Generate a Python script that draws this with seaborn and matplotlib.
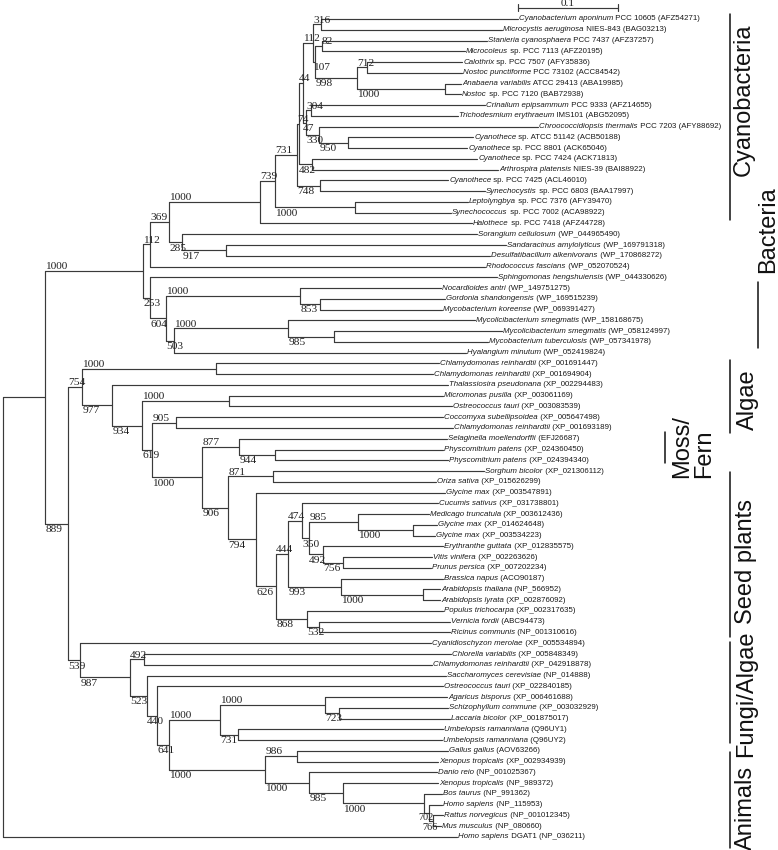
import matplotlib
matplotlib.use("Agg")
import matplotlib.pyplot as plt
import seaborn as sns
import pandas as pd

sns.set_theme(style="white")
plt.rcParams["font.family"] = ["Liberation Sans", "DejaVu Sans"]

# ---------------- data ----------------
leaf_italic = [
    "Cyanobacterium aponinum", "Microcystis aeruginosa", "Stanieria cyanosphaera",
    "Microcoleus", "Calothrix", "Nostoc punctiforme", "Anabaena variabilis", "Nostoc",
    "Crinalium epipsammum", "Trichodesmium erythraeum", "Chroococcidiopsis thermalis",
    "Cyanothece", "Cyanothece", "Cyanothece", "Arthrospira platensis", "Cyanothece",
    "Synechocystis", "Leptolyngbya", "Synechococcus", "Halothece",
    "Sorangium cellulosum", "Sandaracinus amylolyticus", "Desulfatibacillum alkenivorans",
    "Rhodococcus fascians", "Sphingomonas hengshuiensis", "Nocardioides antri",
    "Gordonia shandongensis", "Mycobacterium koreense", "Mycolicibacterium smegmatis",
    "Mycolicibacterium smegmatis", "Mycobacterium tuberculosis", "Hyalangium minutum",
    "Chlamydomonas reinhardtii", "Chlamydomonas reinhardtii", "Thalassiosira pseudonana",
    "Micromonas pusilla", "Ostreococcus tauri", "Coccomyxa subellipsoidea",
    "Chlamydomonas reinhardtii", "Selaginella moellendorffii", "Physcomitrium patens",
    "Physcomitrium patens", "Sorghum bicolor", "Oriza sativa", "Glycine max",
    "Cucumis sativus", "Medicago truncatula", "Glycine max", "Glycine max",
    "Erythranthe guttata", "Vitis vinifera", "Prunus persica", "Brassica napus",
    "Arabidopsis thaliana", "Arabidopsis lyrata", "Populus trichocarpa", "Vernicia fordii",
    "Ricinus communis", "Cyanidioschyzon merolae", "Chlorella variabilis",
    "Chlamydomonas reinhardtii", "Saccharomyces cerevisiae", "Ostreococcus tauri",
    "Agaricus bisporus", "Schizophyllum commune", "Laccaria bicolor",
    "Umbelopsis ramanniana", "Umbelopsis ramanniana", "Gallus gallus",
    "Xenopus tropicalis", "Danio reio", "Xenopus tropicalis", "Bos taurus",
    "Homo sapiens", "Rattus norvegicus", "Mus musculus", "Homo sapiens",
]
leaf_plain = [
    " PCC 10605 (AFZ54271)", " NIES-843 (BAG03213)", " PCC 7437 (AFZ37257)",
    " sp. PCC 7113 (AFZ20195)", " sp. PCC 7507 (AFY35836)", " PCC 73102 (ACC84542)",
    " ATCC 29413 (ABA19985)", " sp. PCC 7120 (BAB72938)", " PCC 9333 (AFZ14655)",
    " IMS101 (ABG52095)", " PCC 7203 (AFY88692)", " sp. ATCC 51142 (ACB50188)",
    " sp. PCC 8801 (ACK65046)", " sp. PCC 7424 (ACK71813)", " NIES-39 (BAI88922)",
    " sp. PCC 7425 (ACL46010)", " sp. PCC 6803 (BAA17997)", " sp. PCC 7376 (AFY39470)",
    " sp. PCC 7002 (ACA98922)", " sp. PCC 7418 (AFZ44728)",
    " (WP_044965490)", " (WP_169791318)", " (WP_170868272)", " (WP_052070524)",
    " (WP_044330626)", " (WP_149751275)", " (WP_169515239)", " (WP_069391427)",
    " (WP_158168675)", " (WP_058124997)", " (WP_057341978)", " (WP_052419824)",
    " (XP_001691447)", " (XP_001694904)", " (XP_002294483)", " (XP_003061169)",
    " (XP_003083539)", " (XP_005647498)", " (XP_001693189)", " (EFJ26687)",
    " (XP_024360450)", " (XP_024394340)", " (XP_021306112)", " (XP_015626299)",
    " (XP_003547891)", " (XP_031738801)", " (XP_003612436)", " (XP_014624648)",
    " (XP_003534223)", " (XP_012835575)", " (XP_002263626)", " (XP_007202234)",
    " (ACO90187)", " (NP_566952)", " (XP_002876092)", " (XP_002317635)",
    " (ABC94473)", " (NP_001310616)", " (XP_005534894)", " (XP_005848349)",
    " (XP_042918878)", " (NP_014888)", " (XP_022840185)", " (XP_006461688)",
    " (XP_003032929)", " (XP_001875017)", " (Q96UY1)", " (Q96UY2)", " (AOV63266)",
    " (XP_002934939)", " (NP_001025367)", " (NP_989372)", " (NP_991362)",
    " (NP_115953)", " (NP_001012345)", " (NP_080660)", " DGAT1 (NP_036211)",
]
# distance of each tip from the root (substitutions per site)
leaf_depth = [
    0.515, 0.499, 0.484, 0.462, 0.459, 0.459, 0.458, 0.458, 0.482, 0.455,
    0.535, 0.470, 0.464, 0.474, 0.495, 0.445, 0.482, 0.465, 0.448, 0.469,
    0.474, 0.503, 0.487, 0.482, 0.494, 0.438, 0.442, 0.439, 0.472, 0.499,
    0.485, 0.463, 0.436, 0.430, 0.445, 0.440, 0.449, 0.440, 0.450, 0.444,
    0.440, 0.445, 0.481, 0.433, 0.442, 0.435, 0.426, 0.434, 0.432, 0.440,
    0.429, 0.428, 0.440, 0.437, 0.437, 0.440, 0.447, 0.447, 0.428, 0.448,
    0.429, 0.443, 0.440, 0.444, 0.445, 0.447, 0.440, 0.439, 0.445, 0.435,
    0.434, 0.435, 0.439, 0.439, 0.440, 0.438, 0.454,
]
# clades: (name, children, depth from root, bootstrap support of 1000)
# children: tip indices (int) or clade names (str); upper child first
backbone_clades = [
    ("root", ["N1", 76], 0.000, None),
    ("N1", ["Bact", "Euk"], 0.042, None),
]
bacteria_clades = [
    ("Bact", ["B112", "B253"], 0.140, 1000),
    ("B112", ["B369", 23], 0.147, 112),
    ("B369", ["Cyano", "B285"], 0.166, 369),
    ("Cyano", ["C739", 19], 0.257, 1000),
    ("C739", ["C731", "C1000b"], 0.272, 739),
    ("C731", ["C74", "C748"], 0.294, 731),
    ("C74", ["C44", "C482"], 0.296, 74),
    ("C44", ["C112", "C47"], 0.300, 44),
    ("C112", ["C316", "C107"], 0.310, 112),
    ("C316", [0, 1], 0.318, 316),
    ("C107", ["C82", "C998"], 0.312, 107),
    ("C82", [2, 3], 0.319, 82),
    ("C998", ["C712", "C1000a"], 0.354, 998),
    ("C712", [4, 5], 0.364, 712),
    ("C1000a", [6, 7], 0.442, 1000),
    ("C47", ["C304", "C330"], 0.303, 47),
    ("C304", [8, 9], 0.308, 304),
    ("C330", [10, "C950"], 0.316, 330),
    ("C950", [11, 12], 0.345, 950),
    ("C482", [13, 14], 0.309, 482),
    ("C748", [15, 16], 0.317, 748),
    ("C1000b", [17, 18], 0.352, 1000),
    ("B285", [20, "B917"], 0.179, 285),
    ("B917", [21, 22], 0.223, 917),
    ("B253", [24, "B604"], 0.147, 253),
    ("B604", ["B1000a", "B503"], 0.163, 604),
    ("B1000a", [25, "B853"], 0.297, 1000),
    ("B853", [26, 27], 0.317, 853),
    ("B503", ["B1000b", 31], 0.171, 503),
    ("B1000b", [28, "B985"], 0.285, 1000),
    ("B985", [29, 30], 0.331, 985),
]
plant_clades = [
    ("Euk", ["P754", "F539"], 0.065, 889),
    ("P754", ["P1000a", "P977"], 0.079, 754),
    ("P1000a", [32, 33], 0.213, 1000),
    ("P977", [34, "P934"], 0.109, 977),
    ("P934", ["P1000b", "P619"], 0.139, 934),
    ("P1000b", [35, 36], 0.226, 1000),
    ("P619", ["P905", "P1000c"], 0.149, 619),
    ("P905", [37, 38], 0.173, 905),
    ("P1000c", ["P877", "P906"], 0.199, 1000),
    ("P877", [39, "P944"], 0.236, 877),
    ("P944", [40, 41], 0.272, 944),
    ("P906", ["P871", "P794"], 0.225, 906),
    ("P871", [42, 43], 0.270, 871),
    ("P794", [44, "P626"], 0.253, 794),
    ("P626", ["P444", "P868"], 0.273, 626),
    ("P444", ["P474", "P993"], 0.285, 444),
    ("P474", [45, "P350"], 0.299, 474),
    ("P350", ["P985", "P492"], 0.306, 350),
    ("P985", [46, "P1000d"], 0.355, 985),
    ("P1000d", [47, 48], 0.410, 1000),
    ("P492", [49, "P756"], 0.320, 492),
    ("P756", [50, 51], 0.340, 756),
    ("P993", [52, "P1000e"], 0.338, 993),
    ("P1000e", [53, 54], 0.420, 1000),
    ("P868", [55, "P532"], 0.304, 868),
    ("P532", [56, 57], 0.316, 532),
]
fungi_animal_clades = [
    ("F539", [58, "F987"], 0.077, 539),
    ("F987", ["F492", "F523"], 0.127, 987),
    ("F492", [59, 60], 0.141, 492),
    ("F523", [61, "F440"], 0.144, 523),
    ("F440", [62, "F641"], 0.154, 440),
    ("F641", ["F1000a", "A1000"], 0.166, 641),
    ("F1000a", ["F1000b", "F731"], 0.217, 1000),
    ("F1000b", [63, "F723"], 0.322, 1000),
    ("F723", [64, 65], 0.336, 723),
    ("F731", [66, 67], 0.235, 731),
    ("A1000", ["A986", "A1000b"], 0.262, 1000),
    ("A986", [68, 69], 0.294, 986),
    ("A1000b", [70, "A985"], 0.306, 1000),
    ("A985", [71, "A1000c"], 0.340, 985),
    ("A1000c", [72, "A702"], 0.421, 1000),
    ("A702", [73, "A766"], 0.426, 702),
    ("A766", [74, 75], 0.430, 766),
]
group_names = ["Cyanobacteria", "Bacteria", "Algae", "Moss/\nFern",
               "Seed plants", "Fungi/Algae", "Animals"]
scale_length = 0.1

# ---------------- layout ----------------
W, H = 778, 850
SP = 10.763               # px between tips
X_PER_PX = 0.001
XMIN = -0.003
YTOP = -19 / SP

def px2x(px):
    return XMIN + px * X_PER_PX

def px2y(py):
    return YTOP + py / SP

clades = backbone_clades + bacteria_clades + plant_clades + fungi_animal_clades
children = {c[0]: c[1] for c in clades}
depth = {c[0]: c[2] for c in clades}
support = {c[0]: c[3] for c in clades}
for i, d in enumerate(leaf_depth):
    depth[i] = d

parent = {}
for name, ch, _, _ in clades:
    for c in ch:
        parent[c] = name

ypos = {}
def get_y(n):
    if n in ypos:
        return ypos[n]
    if isinstance(n, int):
        ypos[n] = float(n)
    else:
        ch = children[n]
        ypos[n] = (get_y(ch[0]) + get_y(ch[-1])) / 2
    return ypos[n]
for n in list(depth.keys()):
    get_y(n)

rows = []
seg = 0
for n in depth:
    if n in parent:
        p = parent[n]
        rows += [(seg, depth[p], ypos[n]), (seg, depth[n], ypos[n])]
        seg += 1
    if not isinstance(n, int):
        ch = children[n]
        rows += [(seg, depth[n], ypos[ch[0]]), (seg, depth[n], ypos[ch[-1]])]
        seg += 1
seg_df = pd.DataFrame(rows, columns=["seg", "x", "y"])

fig = plt.figure(figsize=(W / 100, H / 100), dpi=100)
ax = fig.add_axes([0, 0, 1, 1])
sns.lineplot(data=seg_df, x="x", y="y", units="seg", estimator=None, sort=False,
             color="#3a3a3a", linewidth=0.85, ax=ax, legend=False)
ax.set_xlim(XMIN, XMIN + W * X_PER_PX)
ax.set_ylim(YTOP + H / SP, YTOP)
ax.axis("off")

# tip labels
for i in range(len(leaf_italic)):
    t1 = ax.text(depth[i] + 1.2 * X_PER_PX, ypos[i], leaf_italic[i], style="italic",
                 fontsize=5.7, ha="left", va="center", color="#1a1a1a")
    ax.annotate(leaf_plain[i], xy=(1, 0.5), xycoords=t1, ha="left", va="center",
                fontsize=5.7, color="#1a1a1a")

# bootstrap values (small pixel nudges / sizes where labels crowd)
nudge = {"C82": (6, 0, 8.2), "A702": (-6, -1.0, 7.4), "A766": (-6.5, 1.0, 7.4)}
for n, s in support.items():
    if s is None or n not in parent:
        continue
    p = parent[n]
    dx, dy, fs = nudge.get(n, (0, 0, 8.2))
    upper = children[p][0] == n
    xx = depth[p] + (0.3 + dx) * X_PER_PX
    if upper:
        ax.text(xx, ypos[n] + (dy - 1.8) / SP, str(s), fontsize=fs,
                family="Liberation Serif", ha="left", va="baseline", color="#222222")
    else:
        ax.text(xx, ypos[n] + (dy + 1.2) / SP, str(s), fontsize=fs,
                family="Liberation Serif", ha="left", va="top", color="#222222")

# scale bar
sy = px2y(7.5)
ax.plot([0.515, 0.515 + scale_length], [sy, sy], color="#3a3a3a", lw=0.85)
for xx in (0.515, 0.515 + scale_length):
    ax.plot([xx, xx], [px2y(4), px2y(11)], color="#3a3a3a", lw=0.85)
ax.text(0.515 + scale_length / 2, px2y(8), str(scale_length), fontsize=8.2,
        family="Liberation Serif", ha="center", va="bottom", color="#222222")

# group brackets
brackets = [  # (line x px, y0 px, y1 px, text x px, text y px)
    (730, 14, 220, 744, 100),
    (758, 282, 348, 768, 230),
    (730, 360, 433, 748, 400),
    (665, 432, 463, 693, 446),
    (730, 472, 637, 746, 561),
    (730, 642, 743, 746, 694),
    (730, 752, 848, 746, 808),
]
for (lx, y0, y1, tx, ty), name in zip(brackets, group_names):
    ax.plot([px2x(lx), px2x(lx)], [px2y(y0), px2y(y1)], color="#111111", lw=1.1)
    ax.text(px2x(tx), px2y(ty), name, rotation=90, fontsize=17, ha="center",
            va="center", color="#111111", linespacing=1.0,
            multialignment="left")

fig.savefig("out.png", dpi=100)
